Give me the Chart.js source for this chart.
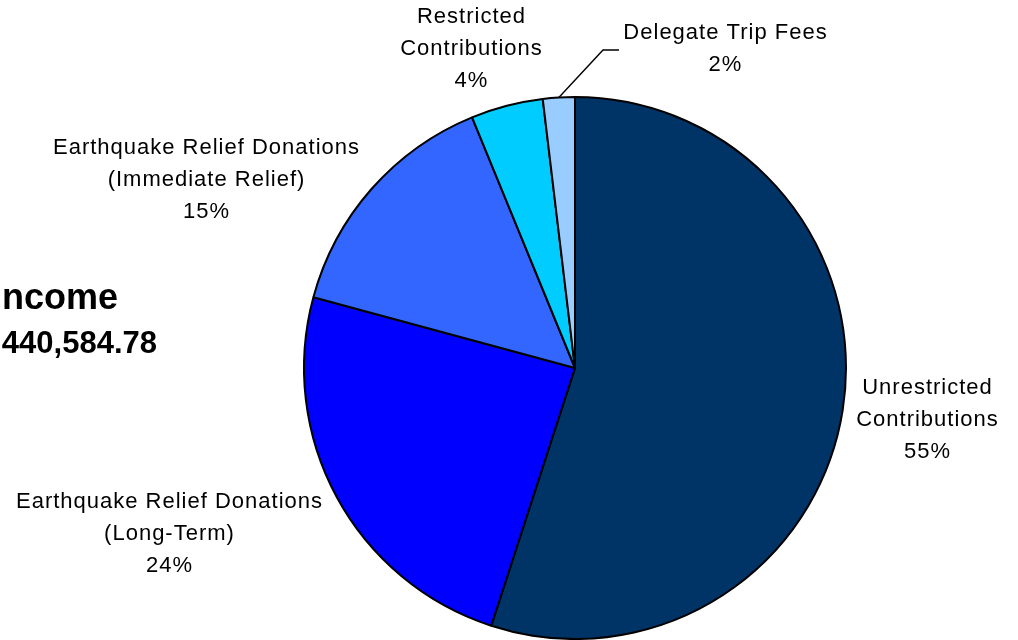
<!DOCTYPE html>
<html>
<head>
<meta charset="utf-8">
<script src="https://cdn.jsdelivr.net/npm/chart.js@4/dist/chart.umd.min.js"></script>
<style>
  html, body { margin: 0; padding: 0; background: #fff; }
  #incomeChart { display: block; }
</style>
</head>
<body>
<canvas id="incomeChart" width="1018" height="640"></canvas>
<script>
// income share by source, percent (clockwise from 12 o'clock)
const categories = [
    'Unrestricted Contributions',
    'Earthquake Relief Donations (Long-Term)',
    'Earthquake Relief Donations (Immediate Relief)',
    'Restricted Contributions',
    'Delegate Trip Fees'
];
const shares = [55.0, 24.2, 14.6, 4.3, 1.9];
const pctLabels = ['55%', '24%', '15%', '4%', '2%'];
const labelLines = [
    ['Unrestricted', 'Contributions'],
    ['Earthquake Relief Donations', '(Long-Term)'],
    ['Earthquake Relief Donations', '(Immediate Relief)'],
    ['Restricted', 'Contributions'],
    ['Delegate Trip Fees']
];
const sliceColors = ['#003366', '#0000FF', '#3366FF', '#00CCFF', '#99CCFF'];
const titleLines = ['Total Income', '$1,440,584.78'];

// where each label block sits (centre x, first line y)
const labelPos = [[927, 388], [169, 502], [206, 148], [471, 16.5], [725, 33]];

const sliceLabels = {
    id: 'sliceLabels',
    afterDraw(chart) {
        const ctx = chart.ctx;
        const arcs = chart.getDatasetMeta(0).data;
        ctx.save();
        ctx.fillStyle = '#000';
        ctx.font = '22px "Liberation Sans", Arial, sans-serif';
        ctx.letterSpacing = '1px';
        ctx.textAlign = 'center';
        ctx.textBaseline = 'middle';
        labelLines.forEach((lines, i) => {
            const [x, y] = labelPos[i];
            const all = lines.concat([pctLabels[i]]);
            all.forEach((t, k) => ctx.fillText(t, x + 0.5, y + k * 32));
        });

        // leader line for the thin slice
        const a = arcs[4].getProps(['x', 'y', 'startAngle', 'endAngle', 'outerRadius'], true);
        const mid = (a.startAngle + a.endAngle) / 2;
        ctx.strokeStyle = '#000';
        ctx.lineWidth = 1.4;
        ctx.beginPath();
        ctx.moveTo(a.x + Math.cos(mid) * a.outerRadius, a.y + Math.sin(mid) * a.outerRadius);
        ctx.lineTo(603, 50);
        ctx.lineTo(619, 50);
        ctx.stroke();

        // title, cut off at the left edge as in the source
        ctx.letterSpacing = '0px';
        ctx.textAlign = 'right';
        ctx.textBaseline = 'alphabetic';
        ctx.font = 'bold 36px "Liberation Sans", Arial, sans-serif';
        ctx.fillText(titleLines[0], 118, 309);
        ctx.font = 'bold 31px "Liberation Sans", Arial, sans-serif';
        ctx.fillText(titleLines[1], 157, 353);
        ctx.restore();
    }
};

new Chart(document.getElementById('incomeChart'), {
    type: 'pie',
    data: {
        labels: categories,
        datasets: [{
            data: shares,
            backgroundColor: sliceColors,
            borderColor: '#000',
            borderWidth: 2
        }]
    },
    options: {
        responsive: false,
        animation: false,
        devicePixelRatio: 1,
        layout: { padding: { left: 303, right: 171, top: 96, bottom: 0 } },
        plugins: {
            legend: { display: false },
            tooltip: { enabled: false }
        }
    },
    plugins: [sliceLabels]
});
</script>
</body>
</html>
